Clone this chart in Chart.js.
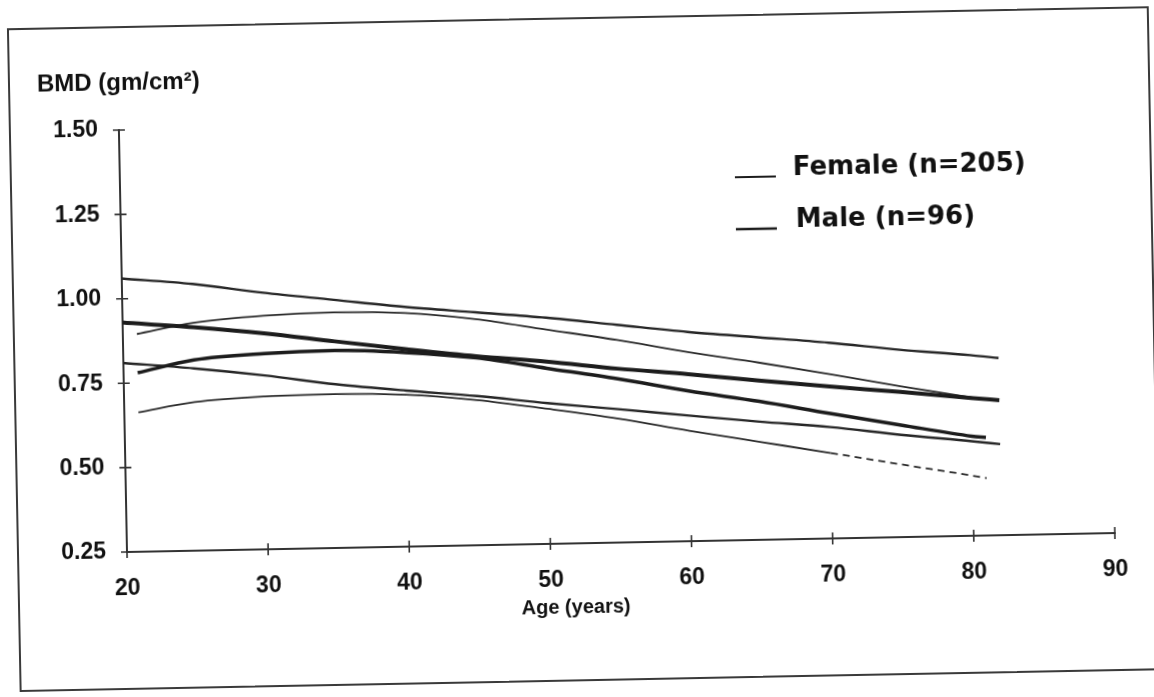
<!DOCTYPE html>
<html>
<head>
<meta charset="utf-8">
<title>BMD by age</title>
<script src="https://cdn.jsdelivr.net/npm/chart.js@4.4.1/dist/chart.umd.min.js"></script>
<style>
  html, body { margin: 0; padding: 0; background: #fff; overflow: hidden; }
  /* the printed figure sits slightly askew on the page */
  #sheet {
    position: absolute; left: 0; top: 0; width: 1154px; height: 697px;
    transform-origin: 127px 552px; transform: rotate(-1.1deg);
  }
  #frame {
    position: absolute; left: 17px; top: 26px; width: 1142px; height: 664px;
    border: 2px solid #3a3a3a; box-sizing: border-box;
  }
  #bmd { position: absolute; left: 0; top: 0; }
</style>
</head>
<body>
<div id="sheet">
  <div id="frame"></div>
  <canvas id="bmd" width="1154" height="697"></canvas>
</div>
<script>
const FONT = '"Liberation Sans", Arial, Helvetica, sans-serif';

// curves: mean and upper/lower bands for each sex
const maleAges   = [20, 25, 30, 35, 40, 45, 50, 55, 60, 65, 70, 75, 80, 82];
const maleUpper  = [1.06, 1.04, 1.01, 0.985, 0.96, 0.94, 0.92, 0.895, 0.87, 0.85, 0.83, 0.805, 0.785, 0.775];
const maleMean   = [0.93, 0.912, 0.89, 0.862, 0.835, 0.81, 0.79, 0.765, 0.745, 0.722, 0.70, 0.68, 0.658, 0.65];
const maleLower  = [0.81, 0.79, 0.765, 0.735, 0.712, 0.692, 0.667, 0.645, 0.622, 0.60, 0.58, 0.553, 0.53, 0.52];

const femaleAges  = [21, 25, 30, 35, 40, 45, 50, 55, 60, 65, 70, 75, 80, 81];
const femaleUpper = [0.895, 0.925, 0.942, 0.948, 0.942, 0.92, 0.885, 0.85, 0.81, 0.775, 0.737, 0.697, 0.66, 0.653];
const femaleMean  = [0.78, 0.815, 0.83, 0.835, 0.825, 0.805, 0.77, 0.735, 0.695, 0.66, 0.62, 0.582, 0.545, 0.54];
const femaleLower = [0.663, 0.69, 0.703, 0.706, 0.70, 0.68, 0.65, 0.617, 0.577, 0.54, 0.503, 0.465, 0.428, 0.42];

const yTicks = [0.25, 0.50, 0.75, 1.00, 1.25, 1.50];
const xTicks = [20, 30, 40, 50, 60, 70, 80, 90];

function pts(ages, vals) {
  return ages.map((a, i) => ({ x: a, y: vals[i] }));
}

function curve(ages, vals, width, color, label) {
  return {
    label: label || '',
    inLegend: !!label,
    data: pts(ages, vals),
    borderColor: color,
    borderWidth: width,
    pointRadius: 0,
    fill: false,
    cubicInterpolationMode: 'monotone'
  };
}

// small crossing tick marks on both axes
const crossTicks = {
  id: 'crossTicks',
  afterDatasetsDraw(chart) {
    const { ctx, scales: { x, y } } = chart;
    ctx.save();
    ctx.strokeStyle = '#333';
    ctx.lineWidth = 1.6;
    ctx.beginPath();
    xTicks.forEach(t => {
      const px = x.getPixelForValue(t);
      ctx.moveTo(px, y.bottom - 6);
      ctx.lineTo(px, y.bottom + 6);
    });
    yTicks.forEach(t => {
      const py = y.getPixelForValue(t);
      ctx.moveTo(x.left - 6, py);
      ctx.lineTo(x.left + 6, py);
    });
    ctx.stroke();
    ctx.restore();
  }
};

// axis captions and the two-line key
const captions = {
  id: 'captions',
  afterDraw(chart) {
    const { ctx, chartArea } = chart;
    ctx.save();
    ctx.fillStyle = '#111';
    ctx.textBaseline = 'middle';
    ctx.font = 'bold 24px ' + FONT;
    ctx.fillText('BMD (gm/cm²)', 46, 83);

    ctx.textAlign = 'center';
    ctx.font = 'bold 20px ' + FONT;
    ctx.fillText('Age (years)', chartArea.left + 448, chartArea.bottom + 64);

    ctx.textAlign = 'left';
    const rows = chart.data.datasets.filter(d => d.inLegend);
    ctx.font = 'bold 26px "DejaVu Sans", ' + FONT;
    rows.forEach((d, i) => {
      const ly = chartArea.top + 59 + i * 52;
      ctx.strokeStyle = d.borderColor;
      ctx.lineWidth = d.borderWidth > 3.5 ? 2.6 : 1.8;
      ctx.beginPath();
      ctx.moveTo(chartArea.left + 615, ly);
      ctx.lineTo(chartArea.left + 656, ly);
      ctx.stroke();
      ctx.fillText(d.label, chartArea.left + 673 + i * 2, ly - 8);
    });
    ctx.restore();
  }
};

new Chart(document.getElementById('bmd'), {
  type: 'line',
  data: {
    datasets: [
      curve(femaleAges, femaleMean, 3.5, '#1c1c1c', 'Female (n=205)'),
      curve(maleAges, maleMean, 4, '#1c1c1c', 'Male (n=96)'),
      curve(femaleAges, femaleUpper, 1.8, '#2a2a2a'),
      Object.assign(curve(femaleAges, femaleLower, 1.8, '#2a2a2a'), {
        // the faint tail of the lower band prints broken
        segment: { borderDash: c => (c.p0.parsed.x >= 70 ? [7, 5] : undefined) }
      }),
      curve(maleAges, maleUpper, 2.4, '#262626'),
      curve(maleAges, maleLower, 2.4, '#262626')
    ]
  },
  options: {
    responsive: false,
    animation: false,
    layout: { padding: { top: 130, right: 39, bottom: 0, left: 0 } },
    plugins: { legend: { display: false }, tooltip: { enabled: false } },
    scales: {
      x: {
        type: 'linear', min: 20, max: 90,
        afterFit(s) { s.height = 145; },
        afterBuildTicks(s) { s.ticks = xTicks.map(v => ({ value: v })); },
        grid: { display: false },
        border: { display: true, color: '#333', width: 2 },
        ticks: {
          padding: 15, color: '#111', maxRotation: 0,
          font: { family: FONT, size: 23, weight: 'bold' }
        }
      },
      y: {
        min: 0.25, max: 1.5,
        afterFit(s) { s.width = 127; },
        afterBuildTicks(s) { s.ticks = yTicks.map(v => ({ value: v })); },
        grid: { display: false },
        border: { display: true, color: '#333', width: 2 },
        ticks: {
          padding: 13, color: '#111',
          font: { family: FONT, size: 23, weight: 'bold' },
          callback: v => v.toFixed(2)
        }
      }
    }
  },
  plugins: [crossTicks, captions]
});
</script>
</body>
</html>
